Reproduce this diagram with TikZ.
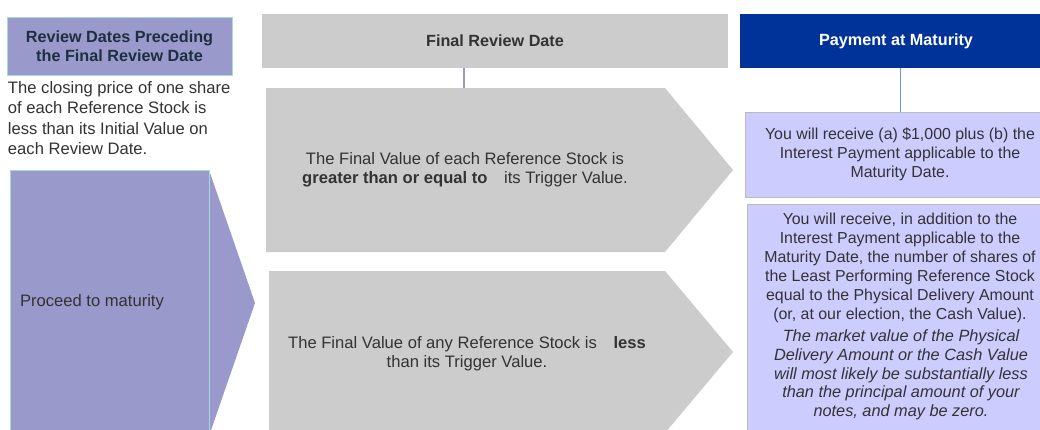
\documentclass[tikz,border=0pt]{standalone}
\usepackage{fontspec}
\setmainfont{Liberation Sans}
\definecolor{purp}{HTML}{9999CC}
\definecolor{grayb}{HTML}{CCCCCC}
\definecolor{navy}{HTML}{003399}
\definecolor{lav}{HTML}{CCCCFF}
\definecolor{txt}{HTML}{333333}
\definecolor{hdtxt}{HTML}{1F2F3F}
\definecolor{tealb}{HTML}{A8D8D8}
\definecolor{boxb}{HTML}{BBBBBB}
\definecolor{conb}{HTML}{6699CC}
\begin{document}
\begin{tikzpicture}[x=1pt,y=-1pt,
  every node/.style={inner sep=0pt, outer sep=0pt, text=txt,
    font=\fontsize{16.6}{19}\selectfont},
  hdr/.style={rectangle, align=center, font=\fontsize{16.2}{19.5}\selectfont\bfseries},
  resbox/.style={rectangle, fill=lav, draw=boxb, line width=0.8pt},
  para/.style={align=center},
  rpara/.style={align=center, font=\fontsize{15.9}{19}\selectfont}]
\useasboundingbox (0,0) rectangle (1040,429);
\clip (0,0) rectangle (1040,429);
\fill[white] (0,0) rectangle (1040,429);

% left column
\node[hdr, fill=purp, draw=tealb, line width=0.8pt, minimum width=225pt, minimum height=58pt, text=hdtxt]
  (lhdr) at (119.5,46) {Review Dates Preceding\\the Final Review Date};
\node[anchor=north west, align=left, font=\fontsize{16.6}{20.5}\selectfont]
  (ltext) at (8,81) {The closing price of one share\\of each Reference Stock is\\less than its Initial Value on\\each Review Date.};
\fill[purp] (209,170) -- (255,303) -- (209,436) -- cycle;
\draw[fill=purp, draw=tealb, line width=0.8pt] (10,170) rectangle (209,440);
\node[anchor=west] (proceed) at (20,302) {Proceed to maturity};

% middle column
\node[hdr, fill=grayb, minimum width=466pt, minimum height=54pt] (frd) at (495,41) {Final Review Date};
\fill[grayb] (266,88) -- (665,88) -- (733,170) -- (665,252) -- (266,252) -- cycle;
\coordinate (a1top) at (464,88);
\node[para] (t1) at (465,169.5) {The Final Value of each Reference Stock is\\\textbf{greater than or equal to}\quad its Trigger Value.};
\fill[grayb] (269,271) -- (665,271) -- (733,352) -- (665,433) -- (269,433) -- cycle;
\node[para] (t2) at (467,353.5) {The Final Value of any Reference Stock is\quad\textbf{less}\\than its Trigger Value.};
\draw[purp, line width=1.5pt] (frd.south -| a1top) -- (a1top);

% right column
\node[hdr, fill=navy, text=white, minimum width=312pt, minimum height=54pt] (pam) at (896,41) {Payment at Maturity};
\node[resbox, minimum width=314pt, minimum height=85pt] (b1) at (902,154.5) {};
\node[rpara] (b1t) at (900,154) {You will receive (a) \$1,000 plus (b) the\\Interest Payment applicable to the\\Maturity Date.};
\coordinate (c1) at (900,112);
\draw[conb, line width=1pt] (pam.south -| c1) -- (c1);
\node[resbox, minimum width=308pt, minimum height=250pt] (b2) at (901,329) {};
\node[rpara] (b2a) at (900,267.5) {You will receive, in addition to the\\Interest Payment applicable to the\\Maturity Date, the number of shares of\\the Least Performing Reference Stock\\equal to the Physical Delivery Amount\\(or, at our election, the Cash Value).};
\node[rpara, font=\fontsize{16.3}{18.75}\selectfont\itshape] (b2b) at (901,375) {The market value of the Physical\\Delivery Amount or the Cash Value\\will most likely be substantially less\\than the principal amount of your\\notes, and may be zero.};
\end{tikzpicture}
\end{document}
